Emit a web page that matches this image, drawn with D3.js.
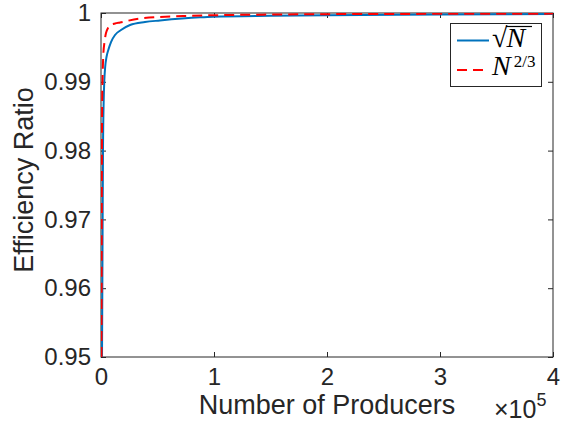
<!DOCTYPE html>
<html><head><meta charset="utf-8">
<script src="https://cdn.jsdelivr.net/npm/d3@7"></script>
<style>
html,body{margin:0;padding:0;background:#fff;}
svg{display:block;}
text{font-family:"Liberation Sans",Arial,Helvetica,sans-serif;fill:#262626;}
</style></head>
<body>
<svg id="chart" width="565" height="423"></svg>
<script>
// ---- data ----
const nSqrt = [885, 1330, 1770, 2390, 2920, 3720, 4870, 6460, 8850, 12400, 17700, 25700, 38900, 52200, 87600, 99100, 150000, 200000, 300000, 400000];
const rSqrt = [0.95, 0.9656, 0.9801, 0.98735, 0.99012, 0.99219, 0.9936, 0.99462, 0.99578, 0.9968, 0.99753, 0.99826, 0.99869, 0.99891, 0.99937, 0.99946, 0.9996, 0.99968, 0.99978, 0.99985];
const nTwoThirds = [440, 620, 800, 1060, 1330, 2040, 3100, 4420, 6200, 7960, 12400, 16800, 34500, 72600, 99100, 150000, 200000, 300000, 400000];
const rTwoThirds = [0.95, 0.9656, 0.9801, 0.98735, 0.99012, 0.9939, 0.99578, 0.99709, 0.99782, 0.99818, 0.99847, 0.99862, 0.9992, 0.99956, 0.99967, 0.99977, 0.99983, 0.99988, 0.99991];
const xTicks = [0, 100000, 200000, 300000, 400000];
const xTickLabels = ["0", "1", "2", "3", "4"];
const yTicks = [0.95, 0.96, 0.97, 0.98, 0.99, 1];
const yTickLabels = ["0.95", "0.96", "0.97", "0.98", "0.99", "1"];
const xLabel = "Number of Producers";
const yLabel = "Efficiency Ratio";

const svg = d3.select("#chart");
const L = 101, R = 553, T = 13, B = 357;
const x = d3.scaleLinear().domain([0, 400000]).range([L, R]);
const y = d3.scaleLinear().domain([0.95, 1]).range([B, T]);
const axisCol = "#262626";

svg.append("defs").append("clipPath").attr("id", "clip")
  .append("rect").attr("x", L).attr("y", T).attr("width", R - L).attr("height", B - T);

// box
svg.append("rect").attr("x", L).attr("y", T).attr("width", R - L).attr("height", B - T)
  .attr("fill", "none").attr("stroke", axisCol).attr("stroke-width", 1);

// axes (ticks inward)
const xAxis = svg.append("g").attr("transform", `translate(0,${B})`)
  .call(d3.axisBottom(x).tickValues(xTicks).tickSizeInner(-5).tickSizeOuter(0).tickPadding(11)
    .tickFormat((d, i) => xTickLabels[i]));
const yAxis = svg.append("g").attr("transform", `translate(${L},0)`)
  .call(d3.axisLeft(y).tickValues(yTicks).tickSizeInner(-5).tickSizeOuter(0).tickPadding(10)
    .tickFormat((d, i) => yTickLabels[i]));
const xTop = svg.append("g").attr("transform", `translate(0,${T})`)
  .call(d3.axisTop(x).tickValues(xTicks).tickSizeInner(-5).tickSizeOuter(0).tickFormat(""));
const yRight = svg.append("g").attr("transform", `translate(${R},0)`)
  .call(d3.axisRight(y).tickValues(yTicks).tickSizeInner(-5).tickSizeOuter(0).tickFormat(""));
[xAxis, yAxis, xTop, yRight].forEach(g => {
  g.select(".domain").remove();
  g.selectAll("line").attr("stroke", axisCol);
  g.selectAll("text").attr("font-size", 24).attr("fill", axisCol)
    .style("font-family", '"Liberation Sans",Arial,sans-serif');
});

// axis labels
svg.append("text").attr("x", (L + R) / 2).attr("y", 414).attr("text-anchor", "middle")
  .attr("font-size", 27).text(xLabel);
svg.append("text").attr("transform", "translate(33,180) rotate(-90)").attr("text-anchor", "middle")
  .attr("font-size", 27).text(yLabel);

// exponent
const ex = svg.append("text").attr("x", 494).attr("y", 418).attr("font-size", 25);
ex.append("tspan").text("×10");
ex.append("tspan").attr("font-size", 18).attr("dy", -12).text("5");

// lines
const line = d3.line().x(d => x(d[0])).y(d => y(d[1])).curve(d3.curveMonotoneX);
const g = svg.append("g").attr("clip-path", "url(#clip)");
g.append("path").datum(nSqrt.map((n, i) => [n, rSqrt[i]]))
  .attr("d", line).attr("fill", "none").attr("stroke", "#0072BD").attr("stroke-width", 2);
g.append("path").datum(nTwoThirds.map((n, i) => [n, rTwoThirds[i]]))
  .attr("d", line).attr("fill", "none").attr("stroke", "#FF0000").attr("stroke-width", 2)
  .attr("stroke-dasharray", "10,6");

// legend
const lg = svg.append("g");
lg.append("rect").attr("x", 450.5).attr("y", 23.5).attr("width", 91).attr("height", 63)
  .attr("fill", "#fff").attr("stroke", axisCol).attr("stroke-width", 1);
lg.append("line").attr("x1", 457).attr("x2", 489).attr("y1", 40.5).attr("y2", 40.5)
  .attr("stroke", "#0072BD").attr("stroke-width", 2);
lg.append("line").attr("x1", 457).attr("x2", 489).attr("y1", 70).attr("y2", 70)
  .attr("stroke", "#FF0000").attr("stroke-width", 2).attr("stroke-dasharray", "10,6");
const serif = '"Liberation Serif","DejaVu Serif",serif';
const t1 = lg.append("text").attr("x", 492).attr("y", 47).attr("font-size", 28)
  .style("font-family", serif).style("fill", "#000");
t1.append("tspan").text("√");
t1.append("tspan").attr("font-style", "italic").attr("dx", -1).text("N");
lg.append("line").attr("x1", 506).attr("x2", 532).attr("y1", 26.5).attr("y2", 26.5)
  .attr("stroke", "#000").attr("stroke-width", 1.2);
const t2 = lg.append("text").attr("x", 492).attr("y", 75).attr("font-size", 28)
  .style("font-family", serif).style("fill", "#000");
t2.append("tspan").attr("font-style", "italic").text("N");
t2.append("tspan").attr("font-size", 17).attr("dy", -8).attr("dx", 3).text("2/3");
</script>
</body></html>
